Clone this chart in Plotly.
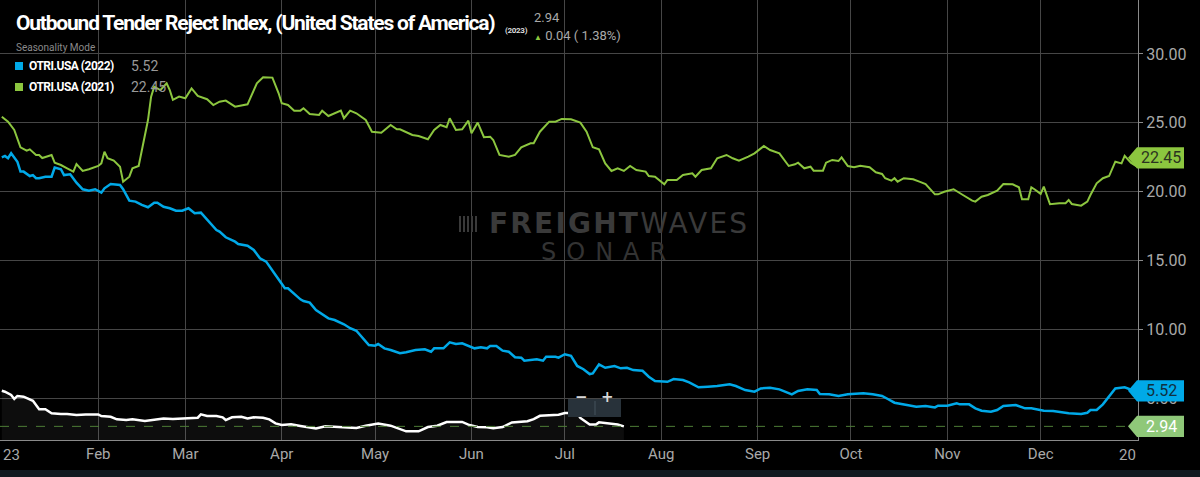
import pandas as pd
import plotly.graph_objects as go

# valeurs : jour depuis le 1er janvier, puis indice
otri_2021_day = [0, 2, 4, 6, 8, 9, 11, 12, 13, 16, 17, 19, 21, 23, 24, 26, 28, 31, 32, 33,
                 34, 36, 38, 39, 41, 42, 44, 45, 47, 48, 49, 51, 53, 54, 55, 57, 59, 61, 63, 66,
                 68, 70, 72, 75, 79, 82, 84, 87, 89, 90, 92, 94, 96, 97, 99, 102, 103, 105, 109, 110,
                 112, 114, 117, 119, 122, 125, 127, 128, 132, 134, 137, 139, 141, 143, 144, 146, 148, 150, 151, 153,
                 155, 157, 158, 160, 163, 165, 167, 170, 171, 173, 176, 178, 180, 183, 186, 188, 190, 192, 194, 196,
                 198, 200, 202, 204, 207, 208, 210, 213, 214, 217, 219, 222, 223, 225, 228, 230, 233, 235, 237, 240,
                 242, 245, 247, 250, 253, 255, 256, 258, 260, 261, 264, 265, 267, 269, 270, 272, 274, 276, 279, 281,
                 283, 284, 286, 287, 288, 290, 293, 295, 297, 300, 301, 303, 306, 309, 312, 313, 315, 317, 320, 322,
                 325, 327, 328, 330, 331, 332, 334, 335, 337, 340, 342, 343, 344, 347, 349, 350, 352, 354, 356, 358,
                 360, 361, 363, 365]
otri_2021_val = [25.44, 25.08, 24.48, 23.22, 22.97, 23.07, 22.66, 22.66, 22.44, 22.66, 22.10, 21.93, 21.69, 21.45, 22.00, 21.50, 21.62, 21.86, 22.05, 22.90,
                 22.42, 22.25, 21.81, 20.72, 21.08, 21.69, 21.86, 23.02, 25.20, 26.90, 27.62, 27.38, 27.87, 27.38, 26.66, 26.90, 26.78, 27.50, 26.95, 26.71,
                 26.29, 26.53, 26.61, 26.17, 26.34, 27.87, 28.31, 28.28, 27.14, 26.42, 26.29, 25.88, 25.88, 26.05, 25.64, 25.57, 25.88, 25.49, 25.88, 25.33,
                 25.88, 25.69, 25.20, 24.35, 24.28, 24.84, 24.53, 24.53, 24.11, 24.04, 23.80, 24.48, 24.84, 24.67, 25.33, 24.48, 24.53, 25.15, 24.24, 25.01,
                 23.95, 23.99, 23.75, 22.66, 22.54, 22.66, 23.22, 23.51, 23.51, 24.35, 25.08, 25.08, 25.28, 25.25, 25.01, 24.35, 23.22, 23.07, 22.05, 21.50,
                 21.69, 21.50, 21.86, 21.57, 21.45, 21.13, 21.08, 20.53, 20.84, 20.84, 21.20, 21.33, 21.08, 21.57, 21.69, 22.42, 22.66, 22.42, 22.25, 22.54,
                 22.78, 23.31, 23.02, 22.78, 21.86, 21.98, 22.10, 21.69, 21.81, 21.52, 21.52, 22.10, 22.30, 22.22, 22.49, 21.86, 21.77, 21.88, 21.77, 21.40,
                 21.28, 20.97, 20.79, 20.97, 20.72, 20.97, 20.89, 20.72, 20.55, 19.80, 19.80, 19.99, 20.17, 19.75, 19.34, 19.27, 19.63, 19.75, 20.07, 20.55,
                 20.53, 20.31, 19.44, 19.44, 20.31, 20.17, 19.83, 20.36, 19.08, 19.15, 19.15, 19.39, 19.10, 18.98, 19.27, 19.75, 20.60, 20.97, 21.13, 22.17,
                 22.05, 22.59, 22.10, 21.81]

otri_2022_day = [0, 1, 2, 3, 5, 6, 7, 9, 10, 11, 12, 14, 16, 17, 19, 20, 22, 24, 26, 28,
                 30, 32, 33, 35, 38, 39, 41, 43, 45, 47, 49, 50, 52, 54, 56, 58, 60, 62, 64, 66,
                 67, 69, 70, 72, 75, 76, 79, 81, 83, 85, 88, 91, 92, 96, 97, 99, 101, 105, 107, 110,
                 112, 114, 118, 120, 121, 123, 125, 128, 130, 133, 136, 138, 139, 142, 144, 146, 148, 152, 154, 156,
                 157, 159, 161, 163, 165, 167, 168, 171, 172, 174, 175, 178, 179, 181, 183, 185, 187, 189, 190, 192,
                 194, 197, 199, 201, 203, 206, 208, 210, 214, 216, 219, 221, 224, 227, 230, 234, 236, 239, 242, 244,
                 247, 250, 253, 254, 256, 259, 262, 263, 266, 269, 272, 277, 280, 283, 285, 287, 291, 294, 297, 300,
                 301, 304, 307, 308, 311, 313, 315, 318, 320, 322, 326, 329, 331, 335, 338, 343, 347, 349, 350, 352,
                 354, 356, 358, 361, 364]
otri_2022_val = [22.49, 22.59, 22.42, 22.78, 22.17, 21.45, 21.45, 21.13, 21.20, 20.97, 20.97, 21.08, 21.08, 21.74, 21.62, 21.20, 21.26, 20.65, 20.17, 20.07,
                 20.17, 19.92, 20.24, 20.55, 20.48, 20.17, 19.34, 19.27, 19.03, 18.86, 19.19, 19.19, 18.90, 18.79, 18.61, 18.61, 18.79, 18.42, 18.47, 17.94,
                 17.70, 17.21, 17.09, 16.68, 16.36, 16.19, 16.07, 15.76, 15.15, 14.91, 13.94, 12.97, 12.97, 12.17, 12.05, 11.93, 11.40, 10.79, 10.67, 10.36,
                 10.07, 9.89, 8.85, 8.80, 8.92, 8.61, 8.49, 8.25, 8.32, 8.49, 8.54, 8.36, 8.61, 8.61, 9.05, 8.92, 8.97, 8.61, 8.68, 8.61,
                 8.78, 8.78, 8.44, 8.36, 7.96, 7.93, 7.71, 7.76, 7.81, 7.71, 8.00, 8.00, 7.93, 8.18, 8.07, 7.33, 7.09, 6.74, 6.79, 7.45,
                 7.20, 7.33, 7.16, 7.20, 7.03, 6.98, 6.55, 6.24, 6.18, 6.38, 6.31, 6.14, 5.78, 5.82, 5.87, 6.00, 5.87, 5.58, 5.46, 5.70,
                 5.75, 5.63, 5.34, 5.27, 5.51, 5.63, 5.58, 5.29, 5.27, 5.15, 5.27, 5.34, 5.27, 5.15, 4.91, 4.66, 4.49, 4.37, 4.42, 4.32,
                 4.44, 4.44, 4.61, 4.54, 4.54, 4.25, 4.08, 4.00, 4.13, 4.42, 4.49, 4.25, 4.25, 4.08, 4.06, 3.89, 3.84, 3.93, 4.13, 4.13,
                 4.54, 5.15, 5.70, 5.78, 5.53]

otri_2023_day = [0, 1, 3, 4, 5, 7, 10, 12, 14, 16, 19, 21, 24, 27, 31, 32, 35, 37, 40, 42,
                 46, 49, 52, 55, 59, 63, 64, 66, 69, 71, 72, 74, 77, 79, 81, 84, 86, 88, 90, 93,
                 96, 97, 101, 104, 109, 114, 117, 121, 125, 127, 130, 134, 137, 140, 143, 148, 150, 153, 156, 158,
                 161, 164, 169, 171, 173, 179, 181, 185, 186, 189, 191, 192, 195, 198, 200]
otri_2023_val = [5.53, 5.46, 5.22, 4.93, 5.15, 5.10, 4.80, 4.18, 4.18, 3.89, 3.84, 3.84, 3.76, 3.81, 3.81, 3.69, 3.64, 3.45, 3.40, 3.45,
                 3.33, 3.40, 3.52, 3.47, 3.52, 3.57, 3.81, 3.69, 3.69, 3.60, 3.40, 3.60, 3.64, 3.52, 3.60, 3.57, 3.45, 3.16, 3.04, 3.09,
                 2.97, 2.94, 2.78, 2.94, 2.89, 2.82, 2.99, 3.14, 2.99, 2.82, 2.58, 2.58, 2.89, 2.99, 3.26, 3.26, 3.07, 2.89, 2.87, 2.80,
                 2.89, 3.23, 3.31, 3.47, 3.71, 3.79, 3.91, 3.91, 3.55, 3.07, 3.07, 3.23, 3.14, 3.07, 2.94]

last_2023 = 2.94
chg_2023 = 0.04
chg_pct_2023 = 1.38
last_2022 = 5.52
last_2021 = 22.45

month_ticks = ["2023-02-01", "2023-03-01", "2023-04-01", "2023-05-01", "2023-06-01", "2023-07-01",
               "2023-08-01", "2023-09-01", "2023-10-01", "2023-11-01", "2023-12-01"]
month_text = ["Feb", "Mar", "Apr", "May", "Jun", "Jul", "Aug", "Sep", "Oct", "Nov", "Dec"]
y_ticks = [5, 10, 15, 20, 25, 30]

GREEN = "#8cc63f"
BLUE = "#00a9e8"
GRID = "#464646"
AXIS = "#8a8a8a"
TXT = "#a9a9a9"

PLOT_W = 1138
PLOT_H = 440


def px(x):
    return x / PLOT_W


def py(y):
    return (PLOT_H - y) / PLOT_H


def to_dates(days):
    return pd.Timestamp("2023-01-01") + pd.to_timedelta(days, unit="D")


def tight(txt, sp):
    # texte resserre (police condensee absente)
    return f"<span style='letter-spacing:{sp}px'>{txt}</span>"


fig = go.Figure()

fig.add_trace(go.Scatter(x=to_dates(otri_2021_day), y=otri_2021_val, mode="lines",
                         line=dict(color=GREEN, width=2), name="OTRI.USA (2021)"))
fig.add_trace(go.Scatter(x=to_dates(otri_2022_day), y=otri_2022_val, mode="lines",
                         line=dict(color=BLUE, width=2.5), name="OTRI.USA (2022)"))
fig.add_trace(go.Scatter(x=to_dates(otri_2023_day), y=otri_2023_val, mode="lines",
                         line=dict(color="#ffffff", width=2.5), fill="tozeroy",
                         fillcolor="rgba(255,255,255,0.05)", name="OTRI.USA (2023)"))

# ligne pointillee sur la derniere valeur 2023
fig.add_shape(type="line", xref="paper", yref="y", x0=0, x1=1, y0=last_2023, y1=last_2023,
              line=dict(color="#4d7d36", width=1, dash="dash"))


# etiquettes de valeur sur l'axe de droite
def add_tag(v, fill, color):
    h = 0.78
    tip, left, right = px(1128), px(1137), px(1184)
    fig.add_shape(type="path", xref="paper", yref="y", fillcolor=fill, line=dict(width=0),
                  path=f"M {tip},{v} L {left},{v + h} L {right},{v + h} L {right},{v - h} L {left},{v - h} Z")
    fig.add_annotation(xref="paper", yref="y", x=px(1161), y=v, text=f"{v:.2f}", showarrow=False,
                       font=dict(family="Roboto", size=16, color=color), xanchor="center", yanchor="middle")


add_tag(last_2021, GREEN, "#2b3320")
add_tag(last_2022, BLUE, "#10303f")
add_tag(last_2023, "#8fc879", "#ffffff")

# titre et legende en haut a gauche
fig.add_annotation(xref="paper", yref="paper", x=px(14), y=py(23), xanchor="left", yanchor="middle",
                   text="<b>" + tight("Outbound Tender Reject Index, (United States of America)", -1.2) + "</b>",
                   showarrow=False, font=dict(family="Roboto", size=21, color="#ffffff"))
fig.add_annotation(xref="paper", yref="paper", x=px(503), y=py(30), xanchor="left", yanchor="middle",
                   text="<b>" + tight("(2023)", -0.3) + "</b>", showarrow=False,
                   font=dict(family="Roboto", size=8, color="#dddddd"))
fig.add_annotation(xref="paper", yref="paper", x=px(532), y=py(17), xanchor="left", yanchor="middle",
                   text=f"{last_2023:.2f}", showarrow=False, font=dict(family="Roboto", size=13, color=TXT))
fig.add_annotation(xref="paper", yref="paper", x=px(532), y=py(35), xanchor="left", yanchor="middle",
                   text=f"<span style='color:{GREEN};font-size:8px'>▲</span> {chg_2023:.2f} ( {chg_pct_2023:.2f}%)",
                   showarrow=False, font=dict(family="Roboto", size=13, color=TXT))
fig.add_annotation(xref="paper", yref="paper", x=px(14), y=py(47), xanchor="left", yanchor="middle",
                   text="Seasonality Mode", showarrow=False,
                   font=dict(family="Roboto", size=10, color="#8a8a8a"))

for row_y, col, label, val in [(66, BLUE, "OTRI.USA (2022)", last_2022),
                               (87, GREEN, "OTRI.USA (2021)", last_2021)]:
    fig.add_shape(type="rect", xref="paper", yref="paper", x0=px(15), x1=px(23),
                  y0=py(row_y + 4), y1=py(row_y - 4), fillcolor=col, line=dict(width=0))
    fig.add_annotation(xref="paper", yref="paper", x=px(27), y=py(row_y), xanchor="left", yanchor="middle",
                       text="<b>" + tight(label, -0.5) + "</b>", showarrow=False,
                       font=dict(family="Roboto", size=12, color="#ffffff"))
    fig.add_annotation(xref="paper", yref="paper", x=px(129), y=py(row_y), xanchor="left", yanchor="middle",
                       text=f"{val:.2f}", showarrow=False, font=dict(family="Roboto", size=14, color="#999999"))

# filigrane
fig.add_annotation(xref="paper", yref="paper", x=px(487), y=py(224), xanchor="left", yanchor="middle",
                   text=tight("<b>FREIGHT</b>WAVES", 2.2), showarrow=False,
                   font=dict(family="DejaVu Sans", size=28, color="#3a3a3a"))
fig.add_annotation(xref="paper", yref="paper", x=px(539), y=py(252), xanchor="left", yanchor="middle",
                   text=tight("SONAR", 10), showarrow=False,
                   font=dict(family="DejaVu Sans", size=24, color="#333333"))
for bx in [460, 464, 468, 472, 476]:
    fig.add_shape(type="line", xref="paper", yref="paper", x0=px(bx), x1=px(bx), y0=py(216), y1=py(232),
                  line=dict(color="#3a3a3a", width=2))

# boutons de zoom
fig.add_shape(type="rect", xref="paper", yref="paper", x0=px(568), x1=px(621), y0=py(417), y1=py(399),
              fillcolor="#28323a", line=dict(width=0))
fig.add_shape(type="line", xref="paper", yref="paper", x0=px(595), x1=px(595), y0=py(415), y1=py(401),
              line=dict(color="#45525c", width=1))
fig.add_annotation(xref="paper", yref="paper", x=px(581), y=py(408), text="<b>−</b>", showarrow=False,
                   font=dict(family="DejaVu Sans", size=15, color="#d8d8d8"))
fig.add_annotation(xref="paper", yref="paper", x=px(607), y=py(408), text="<b>+</b>", showarrow=False,
                   font=dict(family="DejaVu Sans", size=15, color="#d8d8d8"))

# bouts d'annees coupes sur l'axe x
fig.add_annotation(xref="paper", yref="paper", x=px(1), y=py(455), xanchor="left", yanchor="middle",
                   text="23", showarrow=False, font=dict(family="Roboto", size=15, color=TXT))
fig.add_annotation(xref="paper", yref="paper", x=px(1138), y=py(455), xanchor="right", yanchor="middle",
                   text="20", showarrow=False, font=dict(family="Roboto", size=15, color=TXT))

# bande sombre en bas de page
fig.add_shape(type="rect", xref="paper", yref="paper", x0=-0.01, x1=1.06, y0=py(478), y1=py(470),
              fillcolor="#111920", line=dict(width=0), layer="below")

fig.update_layout(
    width=1200, height=477,
    margin=dict(l=0, r=62, t=0, b=37, pad=0, autoexpand=False),
    paper_bgcolor="#000000", plot_bgcolor="#000000",
    showlegend=False,
    xaxis=dict(range=["2022-12-31 10:00", "2024-01-01 07:00"], tickvals=month_ticks, ticktext=month_text,
               showgrid=True, gridcolor=GRID, gridwidth=1, showline=True, linecolor=AXIS, linewidth=1,
               ticks="", zeroline=False, tickfont=dict(family="Roboto", size=15, color=TXT)),
    yaxis=dict(range=[1.95, 33.92], side="right", tickvals=y_ticks, tickformat=".2f",
               showgrid=True, gridcolor=GRID, gridwidth=1, showline=True, linecolor=AXIS, linewidth=1,
               ticks="outside", ticklen=4, tickcolor=AXIS, zeroline=False,
               tickfont=dict(family="Roboto", size=16, color=TXT)),
)

# la page garde sinon la marge de 8 px du navigateur
fig.write_html("out.html", config={"displayModeBar": False},
               post_script="document.body.style.margin='0';document.body.style.background='#000';")
